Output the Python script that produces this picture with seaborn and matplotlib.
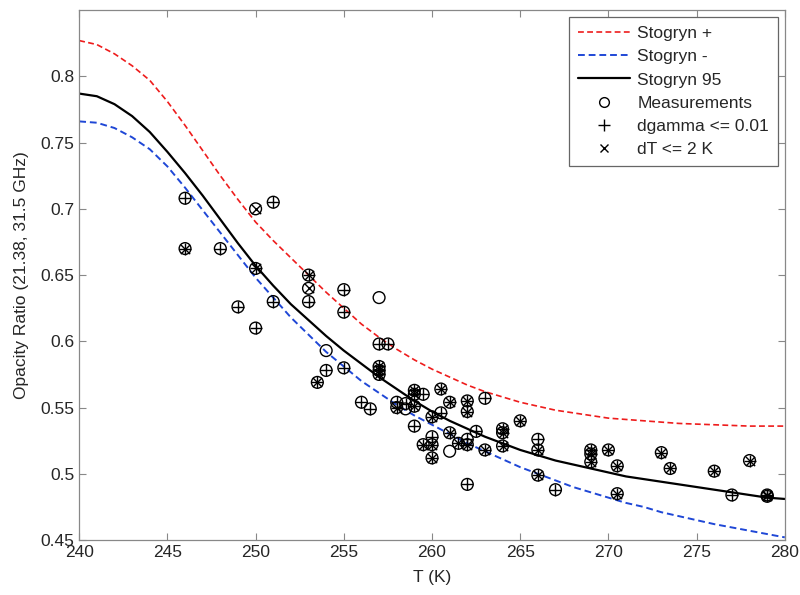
import matplotlib
matplotlib.use("Agg")
import matplotlib.pyplot as plt
from matplotlib.lines import Line2D
import seaborn as sns
import pandas as pd

# Model curves (1 K steps)
curve_T = list(range(240, 281))
stogryn_plus = [0.827, 0.824, 0.817, 0.808, 0.797, 0.781, 0.763, 0.744, 0.725, 0.707,
                0.690, 0.676, 0.663, 0.650, 0.637, 0.625, 0.613, 0.603, 0.594, 0.586,
                0.579, 0.573, 0.567, 0.562, 0.558, 0.554, 0.551, 0.548, 0.546, 0.544,
                0.542, 0.541, 0.540, 0.539, 0.538, 0.5375, 0.537, 0.5365, 0.536, 0.536,
                0.536]
stogryn_minus = [0.766, 0.765, 0.761, 0.754, 0.745, 0.732, 0.716, 0.699, 0.682, 0.665,
                 0.648, 0.633, 0.618, 0.605, 0.592, 0.581, 0.570, 0.561, 0.552, 0.544,
                 0.537, 0.530, 0.523, 0.517, 0.511, 0.505, 0.500, 0.495, 0.490, 0.486,
                 0.482, 0.478, 0.475, 0.471, 0.468, 0.465, 0.462, 0.4595, 0.457, 0.4545,
                 0.452]
stogryn_95 = [0.787, 0.785, 0.779, 0.770, 0.758, 0.743, 0.727, 0.710, 0.692, 0.674,
              0.657, 0.642, 0.628, 0.616, 0.604, 0.593, 0.583, 0.573, 0.564, 0.555,
              0.547, 0.540, 0.534, 0.528, 0.523, 0.518, 0.514, 0.510, 0.507, 0.504,
              0.501, 0.498, 0.496, 0.494, 0.492, 0.490, 0.488, 0.486, 0.484, 0.482,
              0.481]

# Measurements
meas_T = [246.0, 246.0, 248.0, 249.0, 250.0, 250.0, 250.0, 251.0, 251.0, 253.0,
          253.0, 253.0, 253.5, 254.0, 254.0, 255.0, 255.0, 255.0, 256.0, 256.5,
          257.0, 257.0, 257.5, 257.0, 257.0, 257.0, 258.0, 258.0, 258.5, 258.5,
          259.0, 259.0, 259.5, 259.0, 259.0, 259.5, 260.0, 260.0, 260.0, 260.0,
          260.5, 260.5, 261.0, 261.0, 261.0, 261.5, 262.0, 262.0, 262.0, 262.0,
          262.0, 262.5, 263.0, 263.0, 264.0, 264.0, 264.0, 265.0, 266.0, 266.0,
          266.0, 267.0, 269.0, 269.0, 269.0, 270.0, 270.5, 270.5, 273.0, 273.5,
          276.0, 277.0, 278.0, 279.0, 279.0]
meas_ratio = [0.708, 0.670, 0.670, 0.626, 0.700, 0.655, 0.610, 0.705, 0.630, 0.650,
              0.640, 0.630, 0.569, 0.593, 0.578, 0.639, 0.622, 0.580, 0.554, 0.549,
              0.633, 0.598, 0.598, 0.581, 0.578, 0.575, 0.554, 0.550, 0.553, 0.549,
              0.563, 0.560, 0.560, 0.551, 0.536, 0.522, 0.543, 0.528, 0.522, 0.512,
              0.546, 0.564, 0.554, 0.531, 0.517, 0.523, 0.526, 0.522, 0.555, 0.547,
              0.492, 0.532, 0.557, 0.518, 0.534, 0.531, 0.521, 0.540, 0.526, 0.518,
              0.499, 0.488, 0.518, 0.515, 0.509, 0.518, 0.506, 0.485, 0.516, 0.504,
              0.502, 0.484, 0.510, 0.484, 0.483]
# dgamma <= 0.01 flag
meas_dgamma_ok = [1, 1, 1, 1, 0, 1, 1, 1, 1, 1,
                  0, 1, 1, 0, 1, 1, 1, 1, 1, 1,
                  0, 1, 1, 1, 1, 1, 1, 1, 1, 0,
                  1, 1, 1, 1, 1, 1, 1, 1, 1, 1,
                  1, 1, 1, 1, 0, 1, 1, 1, 1, 1,
                  1, 1, 1, 1, 1, 1, 1, 1, 1, 1,
                  1, 1, 1, 1, 1, 1, 1, 1, 1, 1,
                  1, 1, 1, 1, 1]
# dT <= 2 K flag
meas_dT_ok = [0, 1, 0, 0, 1, 1, 0, 0, 0, 1,
              1, 0, 1, 0, 0, 0, 0, 0, 0, 0,
              0, 0, 0, 1, 1, 1, 0, 1, 0, 0,
              1, 1, 0, 1, 0, 1, 1, 0, 1, 1,
              0, 1, 1, 1, 0, 1, 0, 1, 1, 1,
              0, 0, 0, 1, 1, 1, 1, 1, 0, 1,
              1, 0, 1, 1, 1, 1, 1, 1, 1, 1,
              1, 0, 1, 1, 1]

x_label = "T (K)"
y_label = "Opacity Ratio (21.38, 31.5 GHz)"
legend_labels = ["Stogryn +", "Stogryn -", "Stogryn 95", "Measurements", "dgamma <= 0.01", "dT <= 2 K"]

sns.set_style("white")
plt.rcParams["font.family"] = ["Liberation Sans", "DejaVu Sans"]

curves = pd.DataFrame({"T": curve_T, "plus": stogryn_plus, "minus": stogryn_minus, "s95": stogryn_95})
meas = pd.DataFrame({"T": meas_T, "ratio": meas_ratio, "dg": meas_dgamma_ok, "dt": meas_dT_ok})

fig = plt.figure(figsize=(8.0, 5.95), dpi=100)
ax = fig.add_axes([0.099, 0.0924, 0.882, 0.8906])

dash = (0, (3.5, 2))
sns.lineplot(data=curves, x="T", y="plus", ax=ax, color="#ee1c1c", lw=1.2, linestyle=dash)
sns.lineplot(data=curves, x="T", y="minus", ax=ax, color="#1f47d6", lw=1.4, linestyle=dash)
sns.lineplot(data=curves, x="T", y="s95", ax=ax, color="black", lw=1.6)

sns.scatterplot(data=meas, x="T", y="ratio", ax=ax, marker="o", s=72, facecolors="none",
                edgecolor="black", linewidth=1.0, zorder=4)
sns.scatterplot(data=meas[meas["dg"] == 1], x="T", y="ratio", ax=ax, marker="+", s=72,
                color="black", linewidth=1.0, zorder=5)
sns.scatterplot(data=meas[meas["dt"] == 1], x="T", y="ratio", ax=ax, marker="x", s=45,
                color="black", linewidth=1.0, zorder=5)

ax.set_xlim(240, 280)
ax.set_ylim(0.45, 0.85)
ax.set_xticks([240, 245, 250, 255, 260, 265, 270, 275, 280])
ax.set_xticklabels(["240", "245", "250", "255", "260", "265", "270", "275", "280"])
ax.set_yticks([0.45, 0.5, 0.55, 0.6, 0.65, 0.7, 0.75, 0.8])
ax.set_yticklabels(["0.45", "0.5", "0.55", "0.6", "0.65", "0.7", "0.75", "0.8"])
ax.set_xlabel(x_label, fontsize=12.5, labelpad=7)
ax.set_ylabel(y_label, fontsize=12.5, labelpad=8)
ax.tick_params(direction="in", length=5, width=0.8, color="#888888", labelsize=12.5,
               top=True, right=True, bottom=True, left=True)
for sp in ax.spines.values():
    sp.set_visible(True)
    sp.set_color("#888888")
    sp.set_linewidth(0.9)

handles = [
    Line2D([], [], color="#ee1c1c", lw=1.2, linestyle=dash),
    Line2D([], [], color="#1f47d6", lw=1.4, linestyle=dash),
    Line2D([], [], color="black", lw=1.6),
    Line2D([], [], marker="o", ls="none", mfc="none", mec="black", ms=7),
    Line2D([], [], marker="+", ls="none", color="black", ms=8),
    Line2D([], [], marker="x", ls="none", color="black", ms=5.5),
]
leg = ax.legend(handles, legend_labels, loc="upper right", fontsize=12.5, frameon=True,
                fancybox=False, edgecolor="#666666", framealpha=1, handlelength=3.0,
                borderpad=0.5, labelspacing=0.47, borderaxespad=0.4, handletextpad=0.45)
leg.get_frame().set_linewidth(0.9)

fig.savefig("out.png", dpi=100)
